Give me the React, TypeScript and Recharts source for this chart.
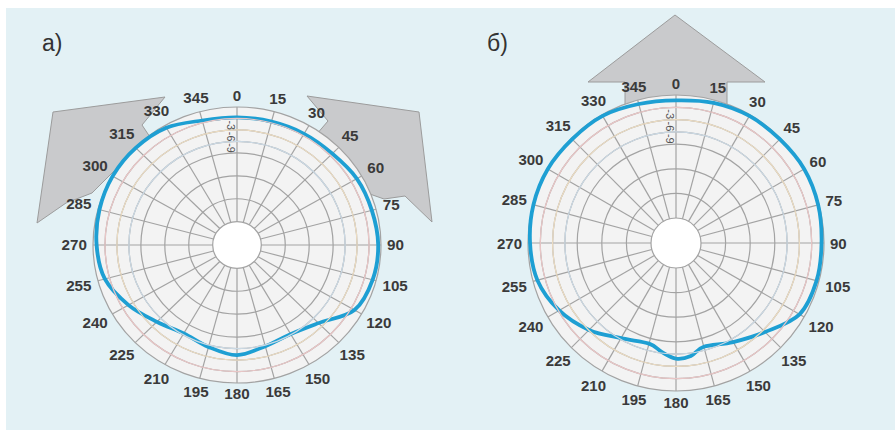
import React from 'react';
import { RadarChart, Radar, PolarGrid, PolarAngleAxis, PolarRadiusAxis } from 'recharts';

// ---- data ----
const tickAngles = [0, 15, 30, 45, 60, 75, 90, 105, 120, 135, 150, 165, 180, 195, 210, 225, 240, 255, 270, 285, 300, 315, 330, 345];
const ringLevels = [-30, -24, -18, -12, -9, -6, -3, 0];
const labelledRings = [-3, -6, -9];
const panelTitles = ['а)', 'б)'];

const anglesA = [0, 15, 30, 45, 60, 75, 90, 105, 120, 135, 150, 165, 180, 195, 210, 225, 240, 255, 270, 285, 300, 315, 330, 345];
const levelsA = [-2.7, -2.7, -2.5, -2.3, -1.4, -1.1, -0.7, -0.9, -2.1, -7.2, -9.2, -8.7, -7.3, -8.5, -9.4, -7.7, -4.7, -1.8, -0.9, -0.4, -0.1, -0.2, -0.7, -2.4];

const anglesB = [0, 15, 30, 45, 60, 75, 90, 105, 120, 135, 150, 165, 172.5, 180, 187.5, 195, 210, 225, 240, 255, 270, 285, 300, 315, 330, 345];
const levelsB = [-1.3, -0.7, -0.3, -0.3, 0, -0.2, -0.6, -0.6, -1.3, -5.4, -8.2, -9.9, -8.3, -7.9, -9.3, -10.7, -9.3, -6.1, -3.2, -1.1, -0.5, -0.1, 0, -0.3, -0.3, -1.0];

const dataA = anglesA.map((angle, i) => ({ angle, level: levelsA[i] }));
const dataB = anglesB.map((angle, i) => ({ angle, level: levelsB[i] }));

// ---- styling / layout ----
const FONT = '"Liberation Sans", Arial, sans-serif';
const FS = 15;
const BLUE = '#1e9fd3';
const GRID = '#a3a3a3';
const ringColors: Record<number, string> = { [-3]: '#e9c6c6', [-6]: '#ecdcc2', [-9]: '#cbd9e4' };

const W = 447;
const H = 434;
const chartA = { left: 0, cx: 237, cy: 245, outer: 142, inner: 24, sx: 1.014, sy: 0.972 };
const chartB = { left: 447, cx: 229, cy: 243, outer: 148, inner: 25, sx: 1, sy: 1 };

const makeAngleTick = (cx: number, cy: number) => (props: any) => {
  const { x, y, payload } = props;
  const dx = x - cx;
  const dy = y - cy;
  const d = Math.hypot(dx, dy) || 1;
  const ux = dx / d;
  const uy = dy / d;
  const label = String(payload.value);
  const halfW = (label.length * 0.556 * FS) / 2;
  const halfH = FS * 0.36;
  const push = Math.abs(ux) * halfW + Math.abs(uy) * halfH;
  return (
    <text
      x={x + ux * push}
      y={y + uy * push}
      textAnchor="middle"
      dominantBaseline="central"
      fontFamily={FONT}
      fontSize={FS}
      fontWeight="bold"
      fill="#3a3a3a"
    >
      {label}
    </text>
  );
};

const makeRingTick = (cx: number, cy: number) => (props: any) => {
  const { x, y, payload } = props;
  const v = payload.value as number;
  const r = Math.hypot(x - cx, y - cy);
  const color = ringColors[v];
  const bx = x - 10;
  const by = y + 2;
  return (
    <g>
      {color ? <circle cx={cx} cy={cy} r={r} fill="none" stroke={color} strokeWidth={1.2} /> : null}
      {labelledRings.includes(v) ? (
        <text x={bx} y={by} transform={`rotate(90 ${bx} ${by})`} fontFamily={FONT} fontSize={11} fill="#555">
          {v}
        </text>
      ) : null}
    </g>
  );
};

// smooth closed curve through the points the library computed
const SmoothShape = (props: any) => {
  const p: { x: number; y: number }[] = props.points || [];
  const n = p.length;
  if (!n) return null;
  let d = `M${p[0].x},${p[0].y}`;
  for (let i = 0; i < n; i++) {
    const p0 = p[(i - 1 + n) % n];
    const p1 = p[i];
    const p2 = p[(i + 1) % n];
    const p3 = p[(i + 2) % n];
    const c1x = p1.x + (p2.x - p0.x) / 6;
    const c1y = p1.y + (p2.y - p0.y) / 6;
    const c2x = p2.x - (p3.x - p1.x) / 6;
    const c2y = p2.y - (p3.y - p1.y) / 6;
    d += ` C${c1x},${c1y} ${c2x},${c2y} ${p2.x},${p2.y}`;
  }
  d += ' Z';
  return <path d={d} fill="none" stroke={BLUE} strokeWidth={3.8} strokeLinejoin="round" />;
};

function Polar({ cfg, data }: { cfg: typeof chartA; data: { angle: number; level: number }[] }) {
  return (
    <RadarChart
      width={W}
      height={H}
      cx={cfg.cx}
      cy={cfg.cy}
      outerRadius={cfg.outer}
      innerRadius={cfg.inner}
      startAngle={90}
      endAngle={-270}
      data={data}
      margin={{ top: 0, right: 0, bottom: 0, left: 0 }}
    >
      <PolarGrid gridType="circle" stroke={GRID} strokeWidth={1.2} />
      <PolarAngleAxis
        dataKey="angle"
        type="number"
        domain={[0, 360]}
        ticks={tickAngles}
        tickSize={6}
        tickLine={false}
        axisLine={false}
        tick={makeAngleTick(cfg.cx, cfg.cy)}
      />
      <PolarRadiusAxis
        angle={90}
        domain={[-30, 0]}
        ticks={ringLevels}
        type="number"
        axisLine={false}
        tickLine={false}
        tick={makeRingTick(cfg.cx, cfg.cy)}
      />
      <Radar
        dataKey="level"
        stroke={BLUE}
        strokeWidth={3.8}
        fill="none"
        fillOpacity={0}
        dot={false}
        shape={SmoothShape}
        isAnimationActive={false}
      />
    </RadarChart>
  );
}

const pts = (arr: number[][]) => arr.map((q) => q.join(',')).join(' ');

export default function App() {
  const bX = chartB.left + chartB.cx;
  const panels = [chartA, chartB];
  return (
    <div style={{ position: 'fixed', left: 0, top: 0, width: 895, height: 434, background: '#ffffff', overflow: 'hidden' }}>
      <svg width={895} height={434} style={{ position: 'absolute', left: 0, top: 0 }}>
        <rect x={6} y={8} width={889} height={422} fill="#e3f1f5" />
        {/* speaker pictograms, panel a */}
        <polygon
          points={pts([[53, 112], [165, 97], [142, 125], [152, 140], [152, 170], [120, 165], [92, 193], [66, 203], [37, 223]])}
          fill="#c9cacc"
          stroke="#9c9c9c"
          strokeWidth={1}
        />
        <polygon
          points={pts([[307, 96], [419, 112], [432, 222], [405, 196], [384, 199], [330, 180], [316, 135], [328, 121]])}
          fill="#c9cacc"
          stroke="#9c9c9c"
          strokeWidth={1}
        />
        {/* speaker pictogram, panel b */}
        <polygon
          points={pts([[bX - 1, 15], [bX + 89, 82], [bX + 51, 82], [bX + 51, 130], [bX - 51, 130], [bX - 51, 82], [bX - 88, 82]])}
          fill="#c9cacc"
          stroke="#9c9c9c"
          strokeWidth={1}
        />
        {panels.map((c, i) => (
          <g key={i} transform={`translate(${c.left + c.cx},${c.cy}) scale(${c.sx},${c.sy})`}>
            <circle cx={0} cy={0} r={c.outer} fill="#f3f3f3" />
            <circle cx={0} cy={0} r={c.inner} fill="#ffffff" />
          </g>
        ))}
        <text x={42} y={51} fontFamily={FONT} fontSize={23} fill="#333">{panelTitles[0]}</text>
        <text x={487} y={51} fontFamily={FONT} fontSize={23} fill="#333">{panelTitles[1]}</text>
      </svg>
      {panels.map((c, i) => (
        <div
          key={i}
          style={{
            position: 'absolute',
            left: c.left,
            top: 0,
            transform: `scale(${c.sx},${c.sy})`,
            transformOrigin: `${c.cx}px ${c.cy}px`,
          }}
        >
          <Polar cfg={c} data={i === 0 ? dataA : dataB} />
        </div>
      ))}
    </div>
  );
}
